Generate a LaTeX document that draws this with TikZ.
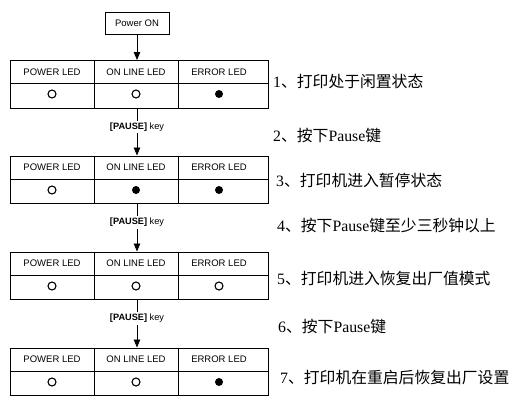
\documentclass[tikz,border=0pt]{standalone}
\usepackage{fontspec}
\setmainfont{Liberation Sans}
\newfontfamily\cjk{Noto Sans CJK SC}
\newfontfamily\lat{Liberation Serif}
\usetikzlibrary{arrows.meta}
\tikzset{
  tbl/.style={draw, line width=0.8pt, minimum width=258pt, minimum height=47.5pt, inner sep=0pt, anchor=north west},
  lbl/.style={font=\fontsize{9.5}{11}\selectfont, inner sep=0pt},
  keylbl/.style={font=\fontsize{9.2}{11}\selectfont, inner sep=2pt},
  note/.style={font=\fontsize{15.8}{18}\selectfont, anchor=west, inner sep=0pt},
  conn/.style={line width=0.8pt},
  arr/.style={line width=0.8pt, -{Triangle[length=8pt,width=6.5pt]}},
  offled/.style={draw, circle, line width=1.1pt, minimum size=8pt, inner sep=0pt},
  onled/.style={fill, circle, minimum size=8pt, inner sep=0pt},
}
\begin{document}
\begin{tikzpicture}[x=1pt,y=-1pt]
\useasboundingbox (0,0) rectangle (521,407);
% Power ON
\node[draw, line width=0.8pt, minimum width=64pt, minimum height=22pt, inner sep=0pt, font=\fontsize{9.5}{11}\selectfont] (p) at (137,23) {Power ON};
% tables
\foreach \n/\y in {1/60,2/155.5,3/251.5,4/347.5}{
  \node[tbl] (t\n) at (10,\y) {};
  \draw[line width=0.8pt] (10,\y+23.5) -- (268,\y+23.5);
  \draw[line width=0.8pt] (94,\y) -- (94,\y+47.5);
  \draw[line width=0.8pt] (178,\y) -- (178,\y+47.5);
  \node[lbl] (pw\n) at (52,\y+12) {POWER LED};
  \node[lbl] (ol\n) at (136,\y+12) {ON LINE LED};
  \node[lbl] (er\n) at (219,\y+12) {ERROR LED};
}
% LEDs
\node[offled] (a1) at (52,94) {};
\node[offled] (b1) at (136,94) {};
\node[onled]  (c1) at (219,94) {};
\node[offled] (a2) at (52,190) {};
\node[onled]  (b2) at (136,190) {};
\node[onled]  (c2) at (219,190) {};
\node[offled] (a3) at (52,286) {};
\node[offled] (b3) at (136,286) {};
\node[offled] (c3) at (219,286) {};
\node[offled] (a4) at (52,382) {};
\node[offled] (b4) at (136,382) {};
\node[onled]  (c4) at (219,382) {};
% connectors
\draw[arr] (p.south) -- (p.south |- t1.north);
\node[keylbl] (k1) at (137,127) {\textbf{[PAUSE]} key};
\node[keylbl] (k2) at (137,222.5) {\textbf{[PAUSE]} key};
\node[keylbl] (k3) at (137,318.5) {\textbf{[PAUSE]} key};
\draw[conn] (k1.north |- t1.south) -- (k1.north);
\draw[arr] (k1.south) -- (k1.south |- t2.north);
\draw[conn] (k2.north |- t2.south) -- (k2.north);
\draw[arr] (k2.south) -- (k2.south |- t3.north);
\draw[conn] (k3.north |- t3.south) -- (k3.north);
\draw[arr] (k3.south) -- (k3.south |- t4.north);
% notes
\node[note] (n1) at (273,81) {{\lat 1}{\cjk 、打印处于闲置状态}};
\node[note] (n2) at (273,135) {{\lat 2}{\cjk 、按下}{\lat Pause}{\cjk 键}};
\node[note] (n3) at (276,180) {{\lat 3}{\cjk 、打印机进入暂停状态}};
\node[note] (n4) at (277,225) {{\lat 4}{\cjk 、按下}{\lat Pause}{\cjk 键至少三秒钟以上}};
\node[note] (n5) at (277,278) {{\lat 5}{\cjk 、打印机进入恢复出厂值模式}};
\node[note] (n6) at (278,326) {{\lat 6}{\cjk 、按下}{\lat Pause}{\cjk 键}};
\node[note] (n7) at (280,377) {{\lat 7}{\cjk 、打印机在重启后恢复出厂设置}};
\end{tikzpicture}
\end{document}
